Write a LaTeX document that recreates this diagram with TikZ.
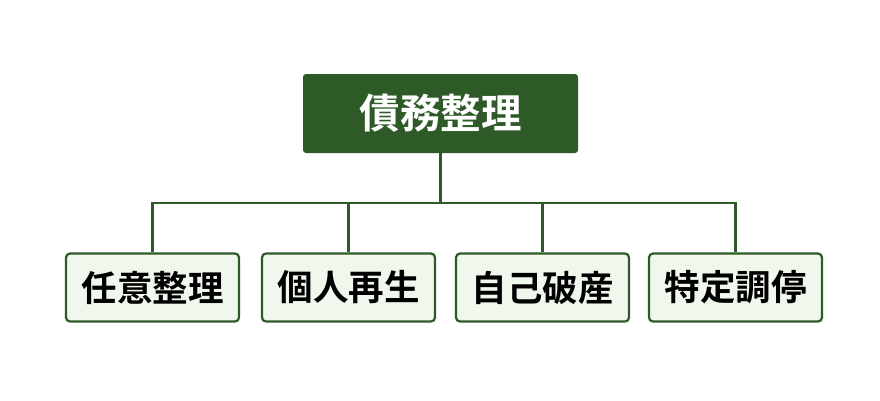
\documentclass[tikz,border=0pt]{standalone}
\usepackage{fontspec}
\newfontfamily\cjk{Noto Sans CJK JP Bold}
\definecolor{dkgreen}{HTML}{2E5A27}
\definecolor{ltgreen}{HTML}{F0F8EE}
\tikzset{
  topbox/.style={fill=dkgreen, draw=none, rounded corners=3pt, minimum width=275pt, minimum height=79pt, inner sep=0pt, text=white, font=\cjk\fontsize{40.5}{40.5}\selectfont},
  childbox/.style={fill=ltgreen, draw=dkgreen, line width=2.2pt, rounded corners=4pt, minimum width=173pt, minimum height=68pt, inner sep=0pt, text=black, font=\cjk\fontsize{35.5}{35.5}\selectfont},
  link/.style={draw=dkgreen, line width=2.6pt}
}
\begin{document}
\begin{tikzpicture}[x=1pt,y=-1pt]
\useasboundingbox (0,0) rectangle (880,400);
\node[topbox] (root) at (440.5,113.5) {債務整理};
\node[childbox] (c1) at (152.5,287.5) {任意整理};
\node[childbox] (c2) at (348.5,287.5) {個人再生};
\node[childbox] (c3) at (542.5,287.5) {自己破産};
\node[childbox] (c4) at (735.5,287.5) {特定調停};
\coordinate (bus) at (440.5,203);
\draw[link] (root.south) -- (bus);
\draw[link] (c1.north) -- (c1.north |- bus) -- (c4.north |- bus) -- (c4.north);
\draw[link] (c2.north) -- (c2.north |- bus);
\draw[link] (c3.north) -- (c3.north |- bus);
\end{tikzpicture}
\end{document}
